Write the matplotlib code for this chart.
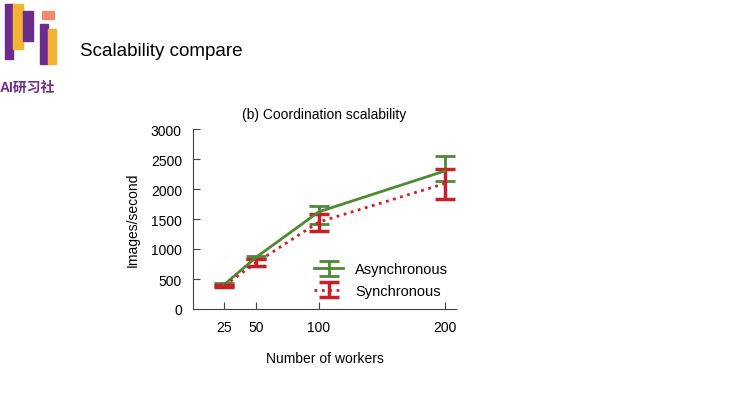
import matplotlib.pyplot as plt
from matplotlib.patches import Rectangle

plt.rcParams['font.family'] = ['Liberation Sans', 'Noto Sans CJK SC', 'DejaVu Sans']

workers = [25, 50, 100, 200]
async_mean = [410, 860, 1620, 2300]
async_low = [390, 830, 1415, 2130]
async_high = [430, 885, 1720, 2550]
sync_mean = [390, 770, 1450, 2090]
sync_low = [375, 720, 1305, 1830]
sync_high = [400, 830, 1580, 2335]

green = '#4d8a35'
red = '#c8202a'

fig = plt.figure(figsize=(7.4, 4.1), dpi=100)

# header
fig.text(80 / 740, 1 - 52 / 410, 'Scalability compare', fontsize=13.5, va='center')
fig.text(0, 1 - 88 / 410, 'AI研习社', fontsize=10, color='#6b2d8c',
         fontweight='bold', va='center')
# rough logo blocks
for x, y, w, h, c in [(5, 5, 8, 55, '#6b2d8c'), (13, 5, 10, 45, '#f5b335'),
                      (23, 12, 10, 30, '#6b2d8c'), (40, 25, 8, 40, '#6b2d8c'),
                      (48, 30, 8, 35, '#f5b335'), (42, 12, 12, 8, '#f08a6a')]:
    fig.add_artist(Rectangle((x / 740, 1 - (y + h) / 410), w / 740, h / 410,
                             color=c, transform=fig.transFigure))

ax = fig.add_axes([193 / 740, 1 - 310 / 410, 263 / 740, 180 / 410])

a_err = [[m - l for m, l in zip(async_mean, async_low)],
         [h - m for m, h in zip(async_mean, async_high)]]
s_err = [[m - l for m, l in zip(sync_mean, sync_low)],
         [h - m for m, h in zip(sync_mean, sync_high)]]

ax.errorbar(workers, async_mean, yerr=a_err, color=green, lw=2, capsize=7,
            capthick=2, elinewidth=2, label='Asynchronous')
ax.errorbar(workers, sync_mean, yerr=s_err, color=red, lw=2, ls=':', capsize=7,
            capthick=2.5, elinewidth=2.5, label='Synchronous')

ax.set_xlim(0, 209)
ax.set_ylim(0, 3000)
ax.set_xticks(workers)
ax.set_yticks(range(0, 3001, 500))
ax.tick_params(direction='in', labelsize=10, length=5, color='#444444', pad=8)
for side in ['top', 'right']:
    ax.spines[side].set_visible(False)
for side in ['left', 'bottom']:
    ax.spines[side].set_color('#444444')

ax.set_title('(b) Coordination scalability', fontsize=10, pad=8)
ax.set_xlabel('Number of workers', fontsize=10, labelpad=12)
ax.set_ylabel('Images/second', fontsize=10, labelpad=8)
ax.legend(loc='lower right', frameon=False, fontsize=10.5,
          bbox_to_anchor=(1.02, -0.01), handlelength=2)

fig.savefig('out.png', dpi=100)
